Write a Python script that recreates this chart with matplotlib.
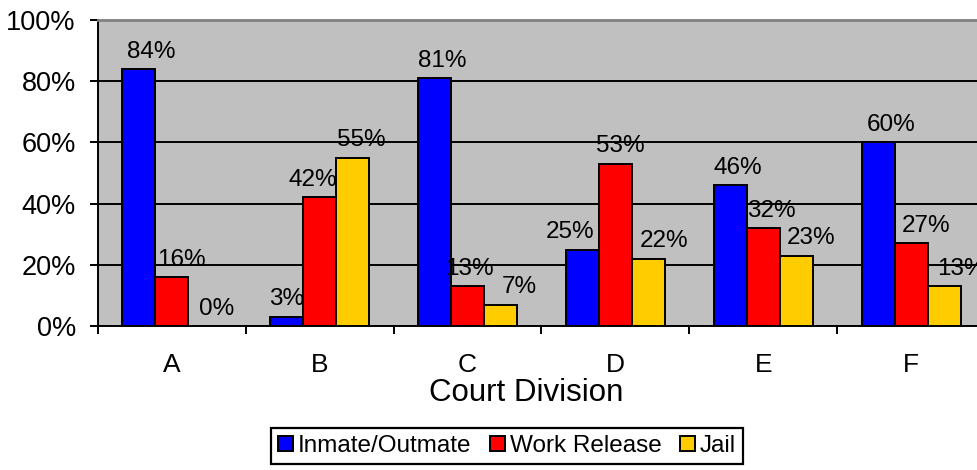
import matplotlib
import numpy as np
from matplotlib import pyplot as plt
from matplotlib.patches import Patch
from matplotlib.ticker import FixedLocator, NullFormatter

matplotlib.use("Agg")

plt.rcParams["font.family"] = ["Liberation Sans", "DejaVu Sans"]

# data
divisions = ["A", "B", "C", "D", "E", "F"]
series_names = ["Inmate/Outmate", "Work Release", "Jail"]
inmate = [84, 3, 81, 25, 46, 60]
work_release = [16, 42, 13, 53, 32, 27]
jail = [0, 55, 7, 22, 23, 13]
y_ticks = [0, 20, 40, 60, 80, 100]

colors = ["#0000FF", "#FF0000", "#FFCC00"]

# horizontal nudge (pixels) of each data label, like Excel placed them
label_dx = [
    [12, 0, 8, -12, 8, 13],
    [10, -7, 2, 5, 8, 15],
    [12, 9, 19, 16, 15, 17],
]

fig = plt.figure(figsize=(9.77, 4.7), dpi=100)
ax = fig.add_axes([98 / 977, 144 / 470, 887 / 977, 306 / 470])
ax.set_facecolor("#C0C0C0")

x = np.arange(len(divisions))
width = 0.2233
series = [inmate, work_release, jail]

for k, values in enumerate(series):
    pos = x + (k - 1) * width
    ax.bar(pos, values, width, color=colors[k], edgecolor="black",
           linewidth=1.4, zorder=3)
    for i, (p, v) in enumerate(zip(pos, values)):
        ax.annotate(f"{v}%", (p, v), xytext=(label_dx[k][i] * 0.72, 12.5),
                    textcoords="offset points", ha="center", va="center",
                    fontsize=17.5, zorder=4)

ax.set_xlim(-0.5, len(divisions) - 0.5)
ax.set_ylim(0, 100)
ax.set_yticks(y_ticks)
ax.set_yticklabels([f"{t}%" for t in y_ticks])
ax.yaxis.grid(True, color="black", linewidth=1.4)
ax.set_axisbelow(True)

# category boundaries get the tick marks, names sit between them
ax.xaxis.set_major_locator(FixedLocator(np.arange(-0.5, len(divisions), 1.0)))
ax.xaxis.set_major_formatter(NullFormatter())
ax.xaxis.set_minor_locator(FixedLocator(x))
ax.set_xticklabels(divisions, minor=True)
ax.tick_params(axis="x", which="major", direction="out", length=6,
               width=1.4, color="black")
ax.tick_params(axis="x", which="minor", length=0, pad=19.5, labelsize=19)
ax.tick_params(axis="y", direction="out", length=6, width=1.4,
               pad=10, labelsize=19.5)

for side in ["left", "bottom"]:
    ax.spines[side].set_color("black")
    ax.spines[side].set_linewidth(1.4)
ax.spines["top"].set_color("#808080")
ax.spines["top"].set_linewidth(2.0)
ax.spines["right"].set_visible(False)

fig.text(526 / 977, 69 / 470, "Court Division", ha="center",
         va="baseline", fontsize=22.5)

handles = [Patch(facecolor=c, edgecolor="black", linewidth=1.4)
           for c in colors]
leg = fig.legend(handles, series_names, loc="center",
                 bbox_to_anchor=(507 / 977, 24 / 470), ncol=3, fontsize=17.5,
                 frameon=True, fancybox=False, edgecolor="black",
                 framealpha=1, handlelength=0.62, handleheight=0.62,
                 handletextpad=0.2, columnspacing=0.75, borderpad=0.3)
leg.get_frame().set_linewidth(1.6)

plt.savefig("out.png", dpi=100)
plt.close("all")
